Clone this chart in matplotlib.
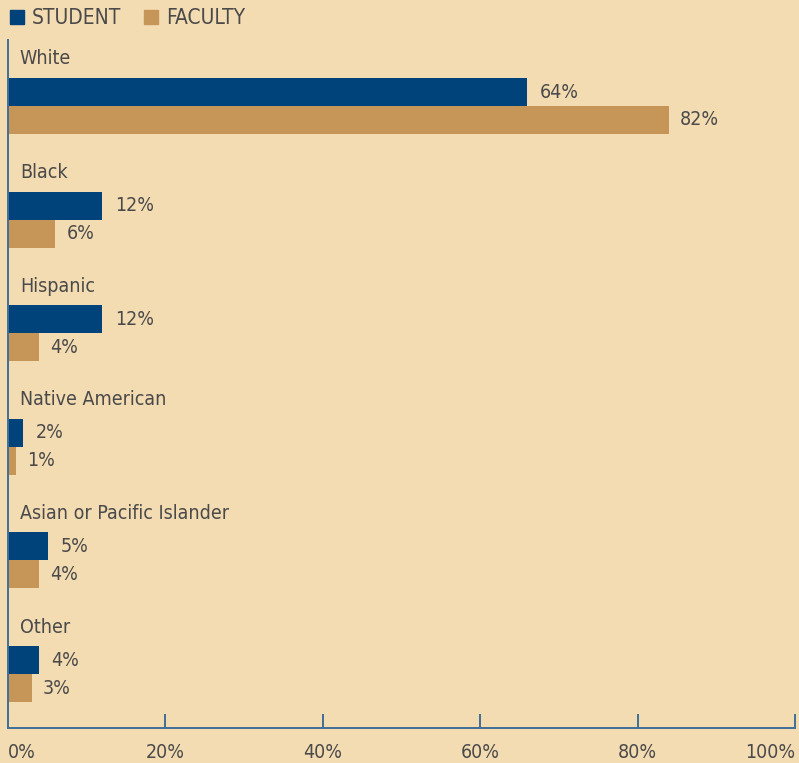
import matplotlib
matplotlib.use("Agg")
import matplotlib.pyplot as plt
from matplotlib.patches import Rectangle
import numpy as np

categories = ["White", "Black", "Hispanic", "Native American",
              "Asian or Pacific Islander", "Other"]
student = [66, 12, 12, 1.9, 5.1, 3.9]
faculty = [84, 6, 3.9, 1.0, 3.9, 3.0]
student_labels = ["64%", "12%", "12%", "2%", "5%", "4%"]
faculty_labels = ["82%", "6%", "4%", "1%", "4%", "3%"]
xticks = [0, 20, 40, 60, 80, 100]
xtick_labels = ["0%", "20%", "40%", "60%", "80%", "100%"]

bg = "#f3dbb2"
navy = "#00427a"
tan = "#c69659"
txt = "#4a4a4a"
axis_col = "#3f7099"

plt.rcParams['font.family'] = ['DejaVu Sans']
plt.rcParams['font.stretch'] = 'condensed'

fig = plt.figure(figsize=(7.99, 7.63), dpi=100, facecolor=bg)
W, H = 799, 763
ax = fig.add_axes([8 / W, (H - 728) / H, (795 - 8) / W, (728 - 40) / H])
ax.set_facecolor(bg)

idx = np.arange(len(categories))
bh = 0.246
ax.barh(idx + 0.458, student, height=bh, color=navy, linewidth=0)
ax.barh(idx + 0.704, faculty, height=bh, color=tan, linewidth=0)

fs = 14
for i in idx:
    ax.text(1.5, i + 0.167, categories[i], fontsize=fs, color=txt, va="center", ha="left")
    ax.annotate(student_labels[i], (student[i], i + 0.458), xytext=(9, 0),
                textcoords="offset points", fontsize=fs, color=txt, va="center")
    ax.annotate(faculty_labels[i], (faculty[i], i + 0.704), xytext=(8, 0),
                textcoords="offset points", fontsize=fs, color=txt, va="center")

ax.set_xlim(0, 100)
ax.set_ylim(6.056, 0)
ax.set_yticks([])
ax.set_xticks(xticks)
ax.set_xticklabels(xtick_labels, fontsize=fs, color=txt)
labels = ax.get_xticklabels()
labels[0].set_ha("left")
labels[-1].set_ha("right")
ax.tick_params(axis="x", direction="in", length=10, width=1.4, color=axis_col, pad=11)
for s in ["top", "right"]:
    ax.spines[s].set_visible(False)
for s in ["left", "bottom"]:
    ax.spines[s].set_color(axis_col)
    ax.spines[s].set_linewidth(1.4)

# legend
fig.patches.append(Rectangle((10 / W, (H - 24) / H), 14 / W, 14 / H,
                             transform=fig.transFigure, color=navy))
fig.text(32 / W, (H - 18) / H, "STUDENT", fontsize=15, color=txt, va="center")
fig.patches.append(Rectangle((144 / W, (H - 24) / H), 14 / W, 14 / H,
                             transform=fig.transFigure, color=tan))
fig.text(166 / W, (H - 18) / H, "FACULTY", fontsize=15, color=txt, va="center")

fig.savefig("out.png", dpi=100, facecolor=bg)
